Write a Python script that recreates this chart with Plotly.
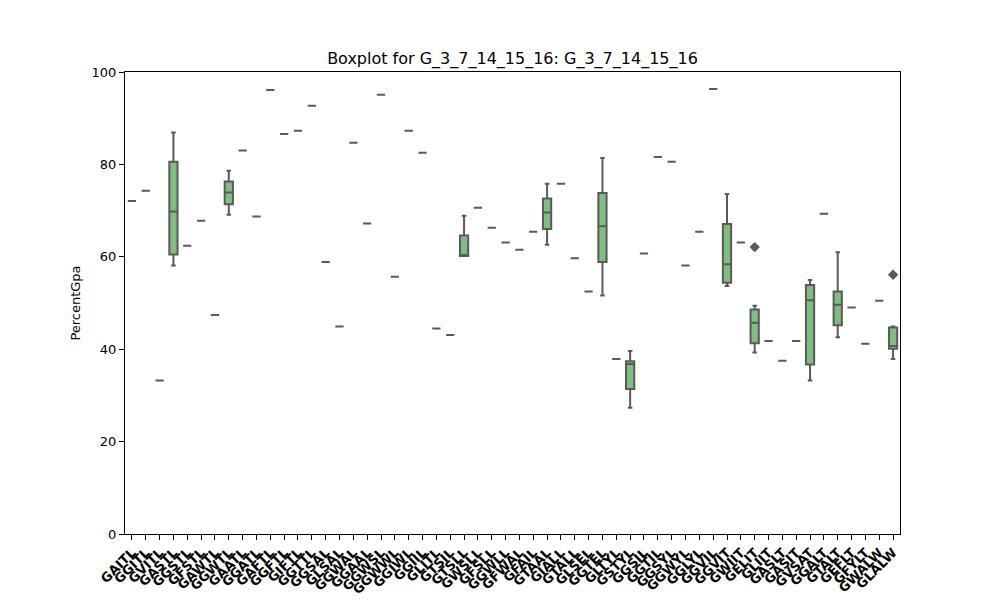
import plotly.graph_objects as go

labels = ["GAITL", "GGITL", "GVITL", "GASTL", "GGSTL", "GFSTL", "GAWTL", "GGWTL",
          "GAATL", "GGATL", "GAFTL", "GGFTL", "GIFTL", "GGTTL", "GGSAL", "GLSAL",
          "GGWAL", "GGAAL", "GGWSL", "GGWWL", "GGIWL", "GGIIL", "GLITL", "GTSIL",
          "GTSLL", "GWSLL", "GFSLL", "GGWLL", "GFWAL", "GFAIL", "GTAAL", "GIALL",
          "GTALL", "GLSEL", "GGTEL", "GLTYL", "GSTYL", "GGSIL", "GGTIL", "GGSYL",
          "GGWYL", "GGLYL", "GGVIL", "GGVIT", "GWIIT", "GELIT", "GLIIT", "GASLT",
          "GASIT", "GVSAT", "GGALT", "GTALT", "GEFLT", "GFYLT", "GWALW", "GLALW"]

lower = [72.1, 74.3, 33.2, 58.1, 62.4, 67.8, 47.4, 69.1, 83.0, 68.7, 96.1, 86.6,
         87.3, 92.7, 58.9, 44.9, 84.7, 67.2, 95.1, 55.7, 87.3, 82.5, 44.5, 43.1,
         60.2, 70.6, 66.3, 63.1, 61.5, 65.4, 62.6, 75.8, 59.7, 52.5, 51.6, 37.9,
         27.3, 60.7, 81.6, 80.6, 58.1, 65.4, 96.3, 53.7, 63.1, 39.3, 41.8, 37.5,
         41.8, 33.2, 69.3, 42.6, 49.0, 41.2, 50.5, 37.9]
q1 = [72.1, 74.3, 33.2, 60.5, 62.4, 67.8, 47.4, 71.4, 83.0, 68.7, 96.1, 86.6,
      87.3, 92.7, 58.9, 44.9, 84.7, 67.2, 95.1, 55.7, 87.3, 82.5, 44.5, 43.1,
      60.2, 70.6, 66.3, 63.1, 61.5, 65.4, 66.0, 75.8, 59.7, 52.5, 58.9, 37.9,
      31.4, 60.7, 81.6, 80.6, 58.1, 65.4, 96.3, 54.4, 63.1, 41.3, 41.8, 37.5,
      41.8, 36.7, 69.3, 45.2, 49.0, 41.2, 50.5, 40.1]
median = [72.1, 74.3, 33.2, 69.8, 62.4, 67.8, 47.4, 73.9, 83.0, 68.7, 96.1, 86.6,
          87.3, 92.7, 58.9, 44.9, 84.7, 67.2, 95.1, 55.7, 87.3, 82.5, 44.5, 43.1,
          60.4, 70.6, 66.3, 63.1, 61.5, 65.4, 69.6, 75.8, 59.7, 52.5, 66.6, 37.9,
          36.8, 60.7, 81.6, 80.6, 58.1, 65.4, 96.3, 58.4, 63.1, 45.7, 41.8, 37.5,
          41.8, 50.6, 69.3, 49.6, 49.0, 41.2, 50.5, 40.7]
q3 = [72.1, 74.3, 33.2, 80.6, 62.4, 67.8, 47.4, 76.3, 83.0, 68.7, 96.1, 86.6,
      87.3, 92.7, 58.9, 44.9, 84.7, 67.2, 95.1, 55.7, 87.3, 82.5, 44.5, 43.1,
      64.6, 70.6, 66.3, 63.1, 61.5, 65.4, 72.6, 75.8, 59.7, 52.5, 73.8, 37.9,
      37.4, 60.7, 81.6, 80.6, 58.1, 65.4, 96.3, 67.1, 63.1, 48.6, 41.8, 37.5,
      41.8, 53.9, 69.3, 52.5, 49.0, 41.2, 50.5, 44.7]
upper = [72.1, 74.3, 33.2, 86.9, 62.4, 67.8, 47.4, 78.6, 83.0, 68.7, 96.1, 86.6,
         87.3, 92.7, 58.9, 44.9, 84.7, 67.2, 95.1, 55.7, 87.3, 82.5, 44.5, 43.1,
         68.9, 70.6, 66.3, 63.1, 61.5, 65.4, 75.8, 75.8, 59.7, 52.5, 81.4, 37.9,
         39.6, 60.7, 81.6, 80.6, 58.1, 65.4, 96.3, 73.6, 63.1, 49.4, 41.8, 37.5,
         41.8, 55.0, 69.3, 61.0, 49.0, 41.2, 50.5, 44.9]

outlier_labels = ["GELIT", "GLALW"]
outlier_values = [62.1, 56.1]

y_ticks = [0, 20, 40, 60, 80, 100]

LINE = "#5a5a5a"
FILL = "rgb(126,190,126)"
FONT = "DejaVu Sans"

fig = go.Figure()
fig.add_trace(go.Box(
    x=labels, q1=q1, median=median, q3=q3,
    lowerfence=lower, upperfence=upper,
    boxpoints=False, fillcolor=FILL,
    line=dict(color=LINE, width=2),
    whiskerwidth=0.55, showlegend=False, hoverinfo="skip",
))
fig.add_trace(go.Scatter(
    x=outlier_labels, y=outlier_values, mode="markers",
    marker=dict(symbol="diamond", color=LINE, size=8),
    showlegend=False,
))

# page body has an 8px margin; compensate so the plot lands where the reference has it
W, H = 992, 592
fig.update_layout(
    width=W, height=H,
    margin=dict(l=117, r=W - 892, t=64, b=H - 526),
    plot_bgcolor="white", paper_bgcolor="white",
    boxgap=0.15,
    font=dict(family=FONT, color="black", size=13),
    title=dict(text="Boxplot for G_3_7_14_15_16: G_3_7_14_15_16",
               x=0.5, xref="paper", xanchor="center",
               y=1 - 50 / H, yref="container", yanchor="middle",
               font=dict(size=16, family=FONT, color="black")),
    xaxis=dict(
        type="category", categoryorder="array", categoryarray=labels,
        tickmode="array", tickvals=labels, ticktext=labels,
        tickangle=-45, tickfont=dict(family=FONT, size=13, weight="bold"),
        showline=True, linecolor="black", linewidth=1, mirror=True,
        ticks="outside", ticklen=5, tickcolor="black",
        showgrid=False, zeroline=False, range=[-0.5, len(labels) - 0.5],
        automargin=False,
    ),
    yaxis=dict(
        range=[0, 100], tickmode="array", tickvals=y_ticks,
        ticktext=[str(v) for v in y_ticks],
        title=dict(text="PercentGpa", font=dict(size=13, family=FONT), standoff=8),
        showline=True, linecolor="black", linewidth=1, mirror=True,
        ticks="outside", ticklen=5, tickcolor="black",
        showgrid=False, zeroline=False, automargin=False,
    ),
)

fig.write_html("out.html")
